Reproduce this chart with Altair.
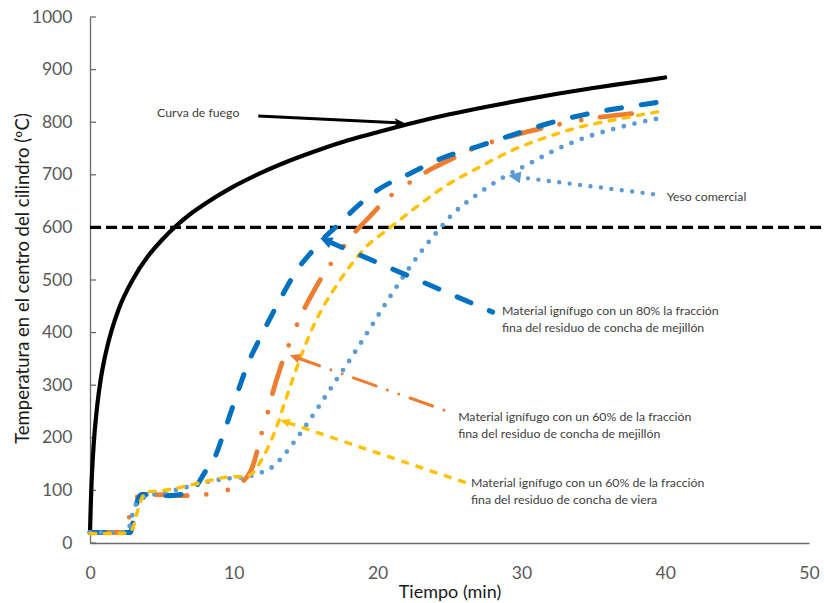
import math
import altair as alt
import pandas as pd

# Axis ticks
x_ticks = [0, 10, 20, 30, 40, 50]
y_ticks = [0, 100, 200, 300, 400, 500, 600, 700, 800, 900, 1000]

# Fire curve (furnace temperature, ºC vs min)
fire_t = [0, 0.05, 0.1, 0.25, 0.5, 0.75, 1, 1.5, 2, 3, 4, 5, 6, 7, 8, 10, 12, 14,
          16, 18, 20, 22.5, 25, 27.5, 30, 32.5, 35, 37.5, 40]
fire_T = [20, 70, 108, 185, 261, 312, 349, 404, 445, 502, 544, 576, 603, 626, 645,
          678, 705, 728, 748, 766, 781, 799, 815, 829, 842, 854, 865, 875, 885]

# 80 % fine fraction of mussel shell residue
m80_t = [0, 1, 2, 2.8, 3.0, 3.3, 3.6, 4.5, 5.5, 6.5, 7.3, 8.0, 8.6, 9.3, 10, 11, 12,
         13.2, 14.4, 15.5, 16.5, 17.2, 18, 20, 22.3, 24.5, 27.1, 29.4, 31.8, 34.3,
         36.9, 39.3, 40]
m80_T = [20, 20, 20, 20, 40, 80, 92, 92, 90, 93, 105, 135, 158, 209, 265, 342, 399,
         462, 519, 556, 586, 603, 625, 671, 703, 732, 755, 776, 797, 814, 827, 837, 840]

# 60 % fine fraction of mussel shell residue
m60_t = [0, 1, 2, 2.5, 2.8, 3.2, 3.6, 4.5, 5.5, 6.5, 7.5, 8.5, 9.5, 10.4, 11.3, 12,
         12.4, 12.7, 13.2, 14.1, 14.6, 15.3, 16, 17.4, 18.4, 19.5, 20.4, 22.5, 23.8,
         25.2, 26.4, 29, 30.3, 31.8, 33, 35.6, 37.2, 38.6]
m60_T = [20, 20, 20, 21, 59, 85, 92, 92, 91, 90, 91, 94, 100, 112, 145, 215, 252, 285,
         330, 395, 428, 466, 500, 555, 590, 622, 648, 690, 712, 731, 747, 771, 781,
         791, 798, 810, 815, 819]

# 60 % fine fraction of scallop shell residue
v60_t = [0, 1, 2, 2.6, 3.0, 3.3, 3.6, 3.9, 4.9, 6.3, 7.9, 9.5, 10.9, 11.3, 11.8, 12.4,
         12.9, 13.6, 14.6, 15.3, 16.2, 17.2, 18.1, 19.2, 20.6, 21.3, 22.7, 24.8, 27.1,
         29.4, 31.8, 34.1, 36.4, 38.7, 40]
v60_T = [18, 18, 18, 19, 30, 60, 85, 97, 99, 106, 116, 125, 127, 133, 152, 183, 215,
         272, 350, 398, 448, 492, 527, 563, 594, 609, 639, 680, 715, 747, 772, 791,
         804, 816, 822]

# Commercial gypsum
yeso_t = [0, 1, 2, 2.6, 2.9, 3.1, 3.5, 4.4, 5.3, 6.3, 7.2, 8.1, 9.7, 10.9, 11.8, 12.5,
          13.2, 14.0, 14.8, 15.8, 16.5, 17.2, 17.9, 18.5, 19.1, 19.7, 20.3, 21.1, 22.0,
          23.2, 24.3, 25.2, 26.2, 27.1, 28.3, 29.7, 30.8, 32.2, 33.6, 35.0, 36.4, 37.8,
          39.3, 40.1]
yeso_T = [20, 20, 20, 21, 49, 68, 82, 92, 97, 103, 110, 116, 123, 126, 133, 141, 158,
          185, 215, 255, 284, 313, 341, 366, 392, 418, 444, 478, 515, 560, 597, 625,
          648, 666, 688, 709, 725, 745, 762, 776, 787, 797, 806, 810]

# 600 ºC criterion line
limit_T = [600]
limit_t = [0, 50.9]

# Annotations: label text, label anchor (t, T), arrow tail (t, T), arrow tip (t, T)
ann_text = [
    "Curva de fuego",
    "Yeso comercial",
    "Material ignífugo con un 80% la fracción\nfina del residuo de concha de mejillón",
    "Material ignífugo con un 60% de la fracción\nfina del residuo de concha de mejillón",
    "Material ignífugo con un 60% de la fracción\nfina del residuo de concha de viera",
]
ann_text_t = [4.66, 40.1, 28.65, 25.6, 26.5]
ann_text_T = [817, 658, 442, 239, 115]
ann_tail_t = [11.7, 39.2, 28.0, 25.2, 26.2]
ann_tail_T = [812, 663, 439, 247, 114]
ann_tip_t = [21.9, 29.1, 16.0, 13.9, 13.2]
ann_tip_T = [798, 698, 580, 357, 234]

# ---- layout -------------------------------------------------------------
W, H = 719, 526
PX_T = W / 50.0      # pixels per minute
PX_Y = H / 1000.0    # pixels per ºC

BLACK = "#000000"
BLUE = "#0070C0"
ORANGE = "#ED7D31"
YELLOW = "#FFC000"
LBLUE = "#5B9BD5"
AXIS_GREY = "#6b6b6b"
LABEL_GREY = "#595959"
TEXT_GREY = "#404040"
FONT = "Lato"

x_scale = alt.Scale(domain=[0, 50], nice=False, zero=True)
y_scale = alt.Scale(domain=[0, 1000], nice=False, zero=True)

x_axis = alt.Axis(values=x_ticks, format="d", grid=False, ticks=False,
                  domainColor=AXIS_GREY, domainWidth=1.3, labelColor=LABEL_GREY,
                  labelFont=FONT, labelFontSize=17.6, labelPadding=21,
                  labelFlush=False, title="Tiempo (min)",
                  titleFont=FONT, titleFontSize=18, titleFontWeight="normal",
                  titleColor="#1a1a1a", titleY=49, titleBaseline="middle")
y_axis = alt.Axis(values=y_ticks, format="d", grid=False, ticks=False,
                  domainColor=AXIS_GREY, domainWidth=1.3, labelColor=LABEL_GREY,
                  labelFont=FONT, labelFontSize=17.6, labelPadding=18,
                  labelFlush=False,
                  title="Temperatura en el centro del cilindro (ºC)",
                  titleFont=FONT, titleFontSize=18.5, titleFontWeight="normal",
                  titleColor="#1a1a1a", titleX=-68, titleY=H / 2 - 2,
                  titleBaseline="middle", titleAngle=270)

X = alt.X("t:Q", scale=x_scale, axis=x_axis)
Y = alt.Y("T:Q", scale=y_scale, axis=y_axis)


def curve(ts, vals, color, width, dash=None, cap="butt"):
    df = pd.DataFrame({"t": ts, "T": vals})
    kw = dict(color=color, strokeWidth=width, strokeCap=cap, interpolate="monotone")
    if dash is not None:
        kw["strokeDash"] = dash
    return alt.Chart(df).mark_line(**kw).encode(x=X, y=Y)


# Arrowheads with the tip at the symbol origin, pointing up before rotation
STEALTH = "M0,0L0.85,2L0,1.55L-0.85,2Z"
TRIANGLE = "M0,0L0.95,2L-0.95,2Z"


def arrow(i, color, width, dash, cap, head_size, shape):
    dx = (ann_tip_t[i] - ann_tail_t[i]) * PX_T
    dy = -(ann_tip_T[i] - ann_tail_T[i]) * PX_Y
    ang = math.degrees(math.atan2(dx, -dy)) % 360
    length = math.hypot(dx, dy)
    back = 0.75 * math.sqrt(head_size)  # keep the shaft under the head
    f = max(0.0, (length - back) / length)
    neck_t = ann_tail_t[i] + (ann_tip_t[i] - ann_tail_t[i]) * f
    neck_T = ann_tail_T[i] + (ann_tip_T[i] - ann_tail_T[i]) * f
    shaft_df = pd.DataFrame({"t": [ann_tail_t[i], neck_t], "T": [ann_tail_T[i], neck_T]})
    kw = dict(color=color, strokeWidth=width, strokeCap=cap)
    if dash is not None:
        kw["strokeDash"] = dash
    shaft = alt.Chart(shaft_df).mark_line(**kw).encode(x=X, y=Y)
    tip_df = pd.DataFrame({"t": [ann_tip_t[i]], "T": [ann_tip_T[i]]})
    head = alt.Chart(tip_df).mark_point(shape=shape, filled=True, opacity=1,
                                        color=color, size=head_size,
                                        angle=ang).encode(x=X, y=Y)
    return shaft + head


# Criterion line at 600 ºC
limit_df = pd.DataFrame({"t": [limit_t[0]], "t2": [limit_t[1]], "T": limit_T})
limit = alt.Chart(limit_df).mark_rule(color=BLACK, strokeWidth=3.2,
                                      strokeDash=[11, 5]).encode(
    x=X, x2="t2:Q", y=Y)

# Inward ticks on the temperature axis
tick_df = pd.DataFrame({"T": y_ticks})
yticks = alt.Chart(tick_df).mark_rule(color=AXIS_GREY, strokeWidth=1.3).encode(
    y=Y, x=alt.value(0), x2=alt.value(6))

fire = curve(fire_t, fire_T, BLACK, 4.2, cap="round")
m60 = curve(m60_t, m60_T, ORANGE, 4.8, dash=[32, 19, 0, 22, 0, 19], cap="round")
m80 = curve(m80_t, m80_T, BLUE, 5, dash=[15, 20], cap="round")
yeso = curve(yeso_t, yeso_T, LBLUE, 4.8, dash=[0, 11], cap="round")
v60 = curve(v60_t, v60_T, YELLOW, 3.4, dash=[6, 8.5], cap="round")

arrows = [
    arrow(0, BLACK, 3, None, "butt", 110, STEALTH),
    arrow(1, LBLUE, 4.4, [0, 10.5], "round", 150, TRIANGLE),
    arrow(2, BLUE, 5, [15, 20], "round", 150, TRIANGLE),
    arrow(3, ORANGE, 3, [24, 12, 0, 12, 0, 12], "round", 100, TRIANGLE),
    arrow(4, YELLOW, 3.4, [8, 7], "butt", 120, STEALTH),
]

lab_df = pd.DataFrame({"t": ann_text_t, "T": ann_text_T, "txt": ann_text})
labels = alt.Chart(lab_df).mark_text(align="left", baseline="middle", font=FONT,
                                     fontSize=12.3, color=TEXT_GREY, lineBreak="\n",
                                     lineHeight=17).encode(x=X, y=Y, text="txt:N")

chart = alt.layer(
    yticks, limit, fire, m60, m80, yeso, v60, *arrows, labels
).properties(
    width=W, height=H,
    padding={"left": 90, "top": 17, "right": 15, "bottom": 60},
    autosize=alt.AutoSizeParams(type="none"),
    background="white",
).configure_view(stroke=None)

chart.save("out.html", embed_options={"renderer": "svg", "actions": False})
